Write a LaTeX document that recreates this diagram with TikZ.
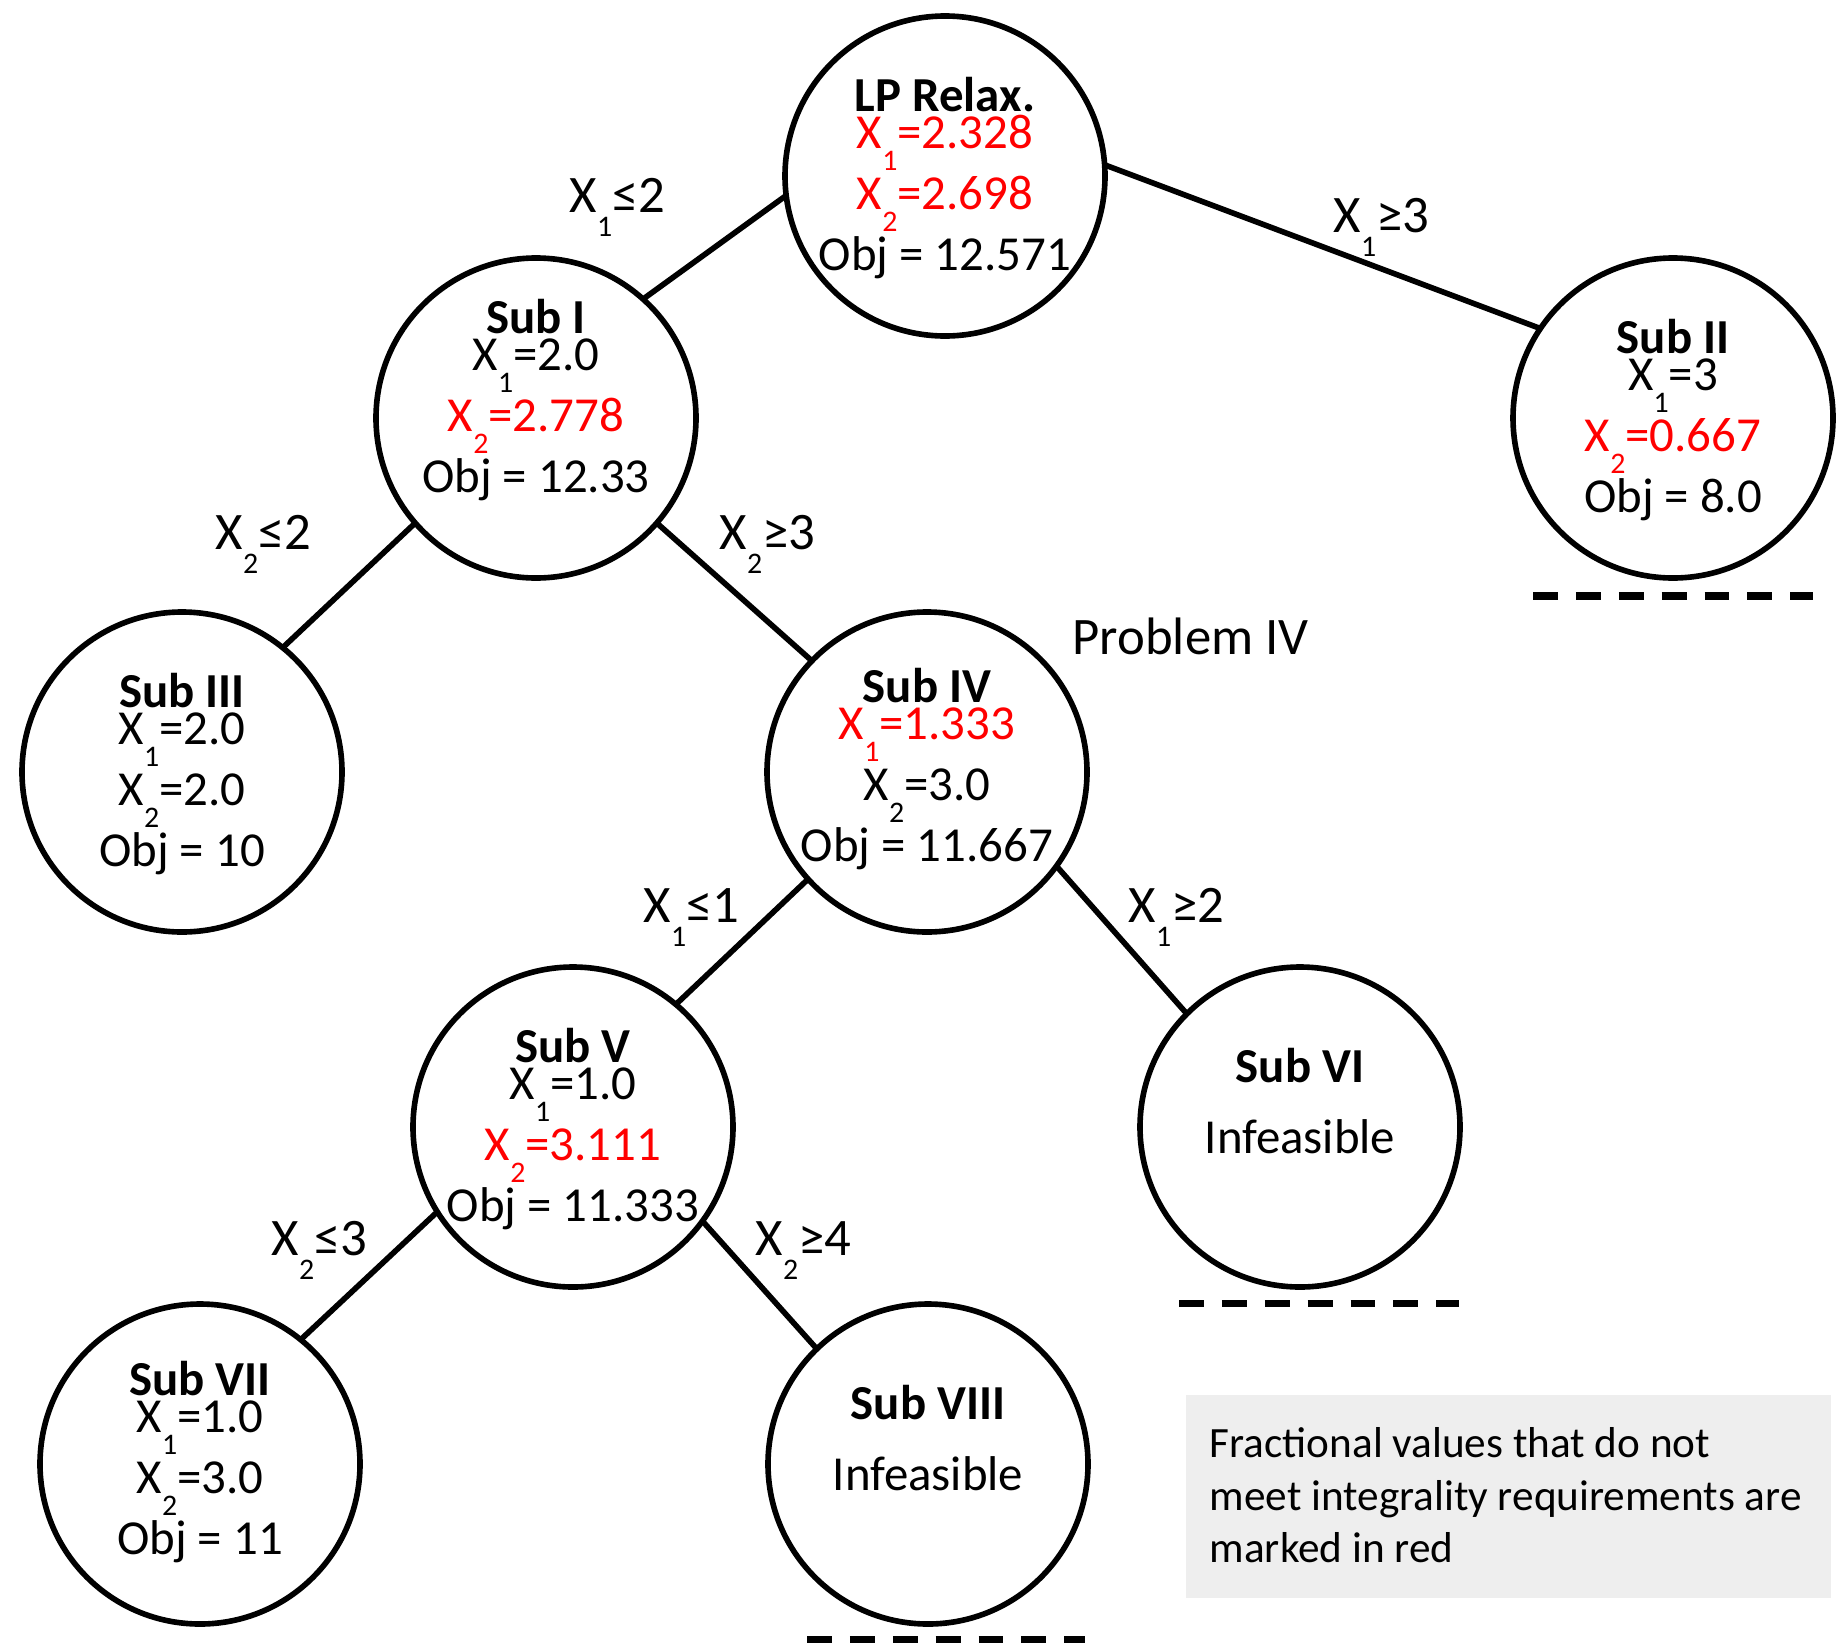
\documentclass[tikz,border=0pt]{standalone}
\usepackage{fontspec}
\setmainfont{Carlito}
\usepackage{tikz}
\usetikzlibrary{positioning}
\definecolor{notegray}{HTML}{EEEEEE}
\newcommand{\xsub}[1]{\raisebox{-0.46em}{\fontsize{8.5}{8.5}\selectfont #1}}

\begin{document}
\begin{tikzpicture}[
	subprob/.style={draw, circle, line width=1.6pt, minimum size=3.2cm, inner sep=0pt, outer sep=0pt},
	subtext/.style={align=center, inner sep=0pt, font=\fontsize{13.9}{17.35}\selectfont},
	branch/.style={line width=1.6pt},
	cutoff/.style={line width=2pt, dash pattern=on 7.1pt off 5.1pt},
	bound/.style={anchor=base west, inner sep=0pt, font=\fontsize{15}{17}\selectfont}]
	\useasboundingbox (0,0) rectangle (18.39,-16.51);

	\node[subprob] (lp) at (9.45,-1.76) {};
	\node[subprob] (sub1) at (5.36,-4.18) {};
	\node[subprob] (sub2) at (16.73,-4.18) {};
	\node[subprob] (sub3) at (1.82,-7.72) {};
	\node[subprob] (sub4) at (9.27,-7.72) {};
	\node[subprob] (sub5) at (5.73,-11.27) {};
	\node[subprob] (sub6) at (13.00,-11.27) {};
	\node[subprob] (sub7) at (2.00,-14.64) {};
	\node[subprob] (sub8) at (9.28,-14.64) {};

	\node[subtext, yshift=-0.02cm] (lptext) at (lp) {\textbf{LP Relax.}\\[-6.85pt]\textcolor{red}{X\xsub{1}=2.328}\\\textcolor{red}{X\xsub{2}=2.698}\\Obj = 12.571};
	\node[subtext, yshift=0.18cm] (sub1text) at (sub1) {\textbf{Sub I}\\[-6.85pt]X\xsub{1}=2.0\\\textcolor{red}{X\xsub{2}=2.778}\\Obj = 12.33};
	\node[subtext, yshift=-0.02cm] (sub2text) at (sub2) {\textbf{Sub II}\\[-6.85pt]X\xsub{1}=3\\\textcolor{red}{X\xsub{2}=0.667}\\Obj = 8.0};
	\node[subtext, yshift=-0.02cm] (sub3text) at (sub3) {\textbf{Sub III}\\[-6.85pt]X\xsub{1}=2.0\\X\xsub{2}=2.0\\Obj = 10};
	\node[subtext, yshift=0.03cm] (sub4text) at (sub4) {\textbf{Sub IV}\\[-6.85pt]\textcolor{red}{X\xsub{1}=1.333}\\X\xsub{2}=3.0\\Obj = 11.667};
	\node[subtext, yshift=-0.02cm] (sub5text) at (sub5) {\textbf{Sub V}\\[-6.85pt]X\xsub{1}=1.0\\\textcolor{red}{X\xsub{2}=3.111}\\Obj = 11.333};
	\node[subtext, yshift=0.26cm] (sub6text) at (sub6) {\textbf{Sub VI}\\[2.85pt]Infeasible};
	\node[subtext, yshift=0.02cm] (sub7text) at (sub7) {\textbf{Sub VII}\\[-6.85pt]X\xsub{1}=1.0\\X\xsub{2}=3.0\\Obj = 11};
	\node[subtext, yshift=0.26cm] (sub8text) at (sub8) {\textbf{Sub VIII}\\[2.85pt]Infeasible};

	\draw[branch] (lp.187) -- (sub1.48);
	\draw[branch] (lp.4) -- (sub2.146);
	\draw[branch] (sub1.221) -- (sub3.51);
	\draw[branch] (sub1.319) -- (sub4.136);
	\draw[branch] (sub4.222) -- (sub5.50);
	\draw[branch] (sub4.324) -- (sub6.135);
	\draw[branch] (sub5.212) -- (sub7.51);
	\draw[branch] (sub5.324) -- (sub8.134);

	\node[bound] (b1) at (5.69,-2.12) {X\xsub{1}≤2};
	\node[bound] (b2) at (13.33,-2.32) {X\xsub{1}≥3};
	\node[bound] (b3) at (2.15,-5.49) {X\xsub{2}≤2};
	\node[bound] (b4) at (7.19,-5.49) {X\xsub{2}≥3};
	\node[bound] (b5) at (6.43,-9.22) {X\xsub{1}≤1};
	\node[bound] (b6) at (11.28,-9.22) {X\xsub{1}≥2};
	\node[bound] (b7) at (2.71,-12.55) {X\xsub{2}≤3};
	\node[bound] (b8) at (7.55,-12.55) {X\xsub{2}≥4};
	\node[bound] (probiv) at (10.72,-6.54) {Problem IV};

	\coordinate (cut2a) at (15.33,-5.96);
	\coordinate (cut2b) at (18.13,-5.96);
	\coordinate (cut6a) at (11.79,-13.03);
	\coordinate (cut6b) at (14.59,-13.03);
	\coordinate (cut8a) at (8.07,-16.39);
	\coordinate (cut8b) at (10.85,-16.39);
	\draw[cutoff] (cut2a) -- (cut2b);
	\draw[cutoff] (cut6a) -- (cut6b);
	\draw[cutoff] (cut8a) -- (cut8b);

	\node[fill=notegray, minimum width=6.45cm, minimum height=2.03cm, anchor=north west, inner sep=0pt] (note) at (11.85,-13.94) {};
	\node[align=left, anchor=base west, inner sep=0pt, font=\fontsize{12.3}{14.8}\selectfont] (notetext) at (12.09,-15.62) {Fractional values that do not\\meet integrality requirements are\\marked in red};
\end{tikzpicture}
\end{document}
